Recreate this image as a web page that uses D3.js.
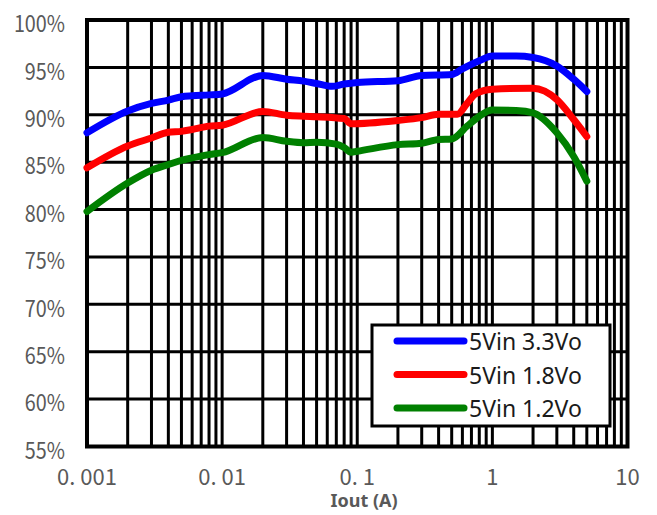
<!DOCTYPE html>
<html>
<head>
<meta charset="utf-8">
<script src="https://cdn.jsdelivr.net/npm/d3@7"></script>
<style>
  html, body { margin: 0; padding: 0; background: #fff; }
  svg { display: block; }
</style>
</head>
<body>
<svg id="chart" width="657" height="515"></svg>
<script>
// Efficiency vs. output current, 5 V input, three output voltages
const seriesNames = ["5Vin 3.3Vo", "5Vin 1.8Vo", "5Vin 1.2Vo"];
const seriesColors = ["#0000ff", "#ff0000", "#008000"];

const iout33 = [0.001, 0.002, 0.003, 0.004, 0.005, 0.006, 0.008, 0.01, 0.02, 0.03, 0.04, 0.05, 0.065, 0.08, 0.1, 0.2, 0.3, 0.5, 0.6, 0.8, 1, 1.5, 2, 3, 4, 5];
const eff33  = [88.1, 90.4, 91.2, 91.55, 91.9, 92.0, 92.1, 92.2, 94.15, 93.75, 93.55, 93.3, 93.0, 93.25, 93.4, 93.6, 94.15, 94.25, 94.85, 95.7, 96.2, 96.2, 96.05, 95.15, 93.75, 92.45];

const iout18 = [0.001, 0.002, 0.003, 0.004, 0.005, 0.006, 0.008, 0.01, 0.02, 0.03, 0.04, 0.05, 0.08, 0.09, 0.2, 0.3, 0.4, 0.55, 0.65, 0.75, 1, 2, 3, 4, 5];
const eff18  = [84.4, 86.7, 87.55, 88.15, 88.25, 88.45, 88.8, 88.9, 90.35, 89.95, 89.85, 89.8, 89.6, 89.05, 89.4, 89.7, 90.05, 90.05, 91.2, 92.2, 92.7, 92.8, 91.6, 89.5, 87.7];

const iout12 = [0.001, 0.002, 0.003, 0.004, 0.005, 0.006, 0.008, 0.01, 0.02, 0.03, 0.04, 0.05, 0.07, 0.08, 0.09, 0.1, 0.2, 0.3, 0.4, 0.5, 0.65, 0.8, 1, 1.5, 2, 3, 4, 5];
const eff12  = [79.8, 82.8, 84.15, 84.75, 85.2, 85.45, 85.8, 86.0, 87.6, 87.2, 87.05, 87.1, 86.9, 86.55, 86.05, 86.15, 86.85, 87.0, 87.4, 87.45, 88.8, 89.85, 90.5, 90.45, 90.2, 88.1, 85.6, 83.0];

const xTickValues = [0.001, 0.01, 0.1, 1, 10];
const xTickLabels = ["0. 001", "0. 01", "0. 1", "1", "10"];
const yTickValues = [55, 60, 65, 70, 75, 80, 85, 90, 95, 100];
const xTitle = "Iout (A)";

const seriesX = [iout33, iout18, iout12];
const seriesY = [eff33, eff18, eff12];

const svg = d3.select("#chart");
const plot = { left: 87, right: 627.5, top: 20, bottom: 446.5 };

const x = d3.scaleLog().domain([0.001, 10]).range([plot.left, plot.right]);
const y = d3.scaleLinear().domain([55, 100]).range([plot.bottom, plot.top]);

// Grid: every 1..9 step of each decade, and every 5 %
const minorX = [];
for (let d = -3; d < 1; d++) {
  for (let m = 1; m <= 9; m++) {
    const v = m * Math.pow(10, d);
    if (v > 0.001) minorX.push(v);
  }
}
const grid = svg.append("g").attr("stroke", "#000").attr("stroke-width", 3);
grid.selectAll("line.v").data(minorX).join("line")
  .attr("class", "v")
  .attr("x1", d => x(d)).attr("x2", d => x(d))
  .attr("y1", plot.top).attr("y2", plot.bottom);
grid.selectAll("line.h").data(yTickValues.filter(v => v > 55 && v < 100)).join("line")
  .attr("class", "h")
  .attr("x1", plot.left).attr("x2", plot.right)
  .attr("y1", d => y(d)).attr("y2", d => y(d));

svg.append("rect")
  .attr("x", plot.left).attr("y", plot.top)
  .attr("width", plot.right - plot.left).attr("height", plot.bottom - plot.top)
  .attr("fill", "none").attr("stroke", "#000").attr("stroke-width", 4);

// Axis labels
const labelColor = "#595959";
svg.append("g").selectAll("text").data(yTickValues).join("text")
  .attr("transform", d => `translate(65,${y(d) + 2}) scale(0.86,1)`)
  .attr("text-anchor", "end").attr("dominant-baseline", "central")
  .attr("font-family", "'Noto Sans CJK SC', 'Noto Sans', sans-serif")
  .attr("font-size", 23).attr("fill", labelColor)
  .text(d => d + "%");

svg.append("g").selectAll("text").data(xTickValues).join("text")
  .attr("x", d => x(d)).attr("y", 485)
  .attr("text-anchor", "middle")
  .attr("font-family", "'Noto Sans CJK SC', 'Noto Sans', sans-serif")
  .attr("font-size", 22).attr("fill", labelColor)
  .text((d, i) => xTickLabels[i]);

svg.append("text")
  .attr("x", 364).attr("y", 507)
  .attr("text-anchor", "middle")
  .attr("font-family", "'Noto Sans', sans-serif")
  .attr("font-weight", "bold").attr("font-size", 18).attr("fill", labelColor)
  .text(xTitle);

// Curves
const line = d3.line()
  .x(d => x(d[0])).y(d => y(d[1]))
  .curve(d3.curveMonotoneX);
svg.append("g").selectAll("path").data(seriesNames).join("path")
  .attr("d", (n, i) => line(seriesX[i].map((v, j) => [v, seriesY[i][j]])))
  .attr("fill", "none")
  .attr("stroke", (n, i) => seriesColors[i])
  .attr("stroke-width", 7)
  .attr("stroke-linecap", "round")
  .attr("stroke-linejoin", "round");

// Legend
const legend = svg.append("g");
legend.append("rect")
  .attr("x", 372).attr("y", 325).attr("width", 238).attr("height", 101)
  .attr("fill", "#fff").attr("stroke", "#000").attr("stroke-width", 3);
const rows = legend.selectAll("g.row").data(seriesNames).join("g")
  .attr("class", "row")
  .attr("transform", (d, i) => `translate(0,${341 + i * 33.5})`);
rows.append("line")
  .attr("x1", 397).attr("x2", 464).attr("y1", 0).attr("y2", 0)
  .attr("stroke", (d, i) => seriesColors[i])
  .attr("stroke-width", 7).attr("stroke-linecap", "round");
rows.append("text")
  .attr("x", 469).attr("y", 0).attr("dominant-baseline", "central")
  .attr("font-family", "'Noto Sans', sans-serif")
  .attr("font-size", 23).attr("fill", "#1a1a1a")
  .text(d => d);
</script>
</body>
</html>
